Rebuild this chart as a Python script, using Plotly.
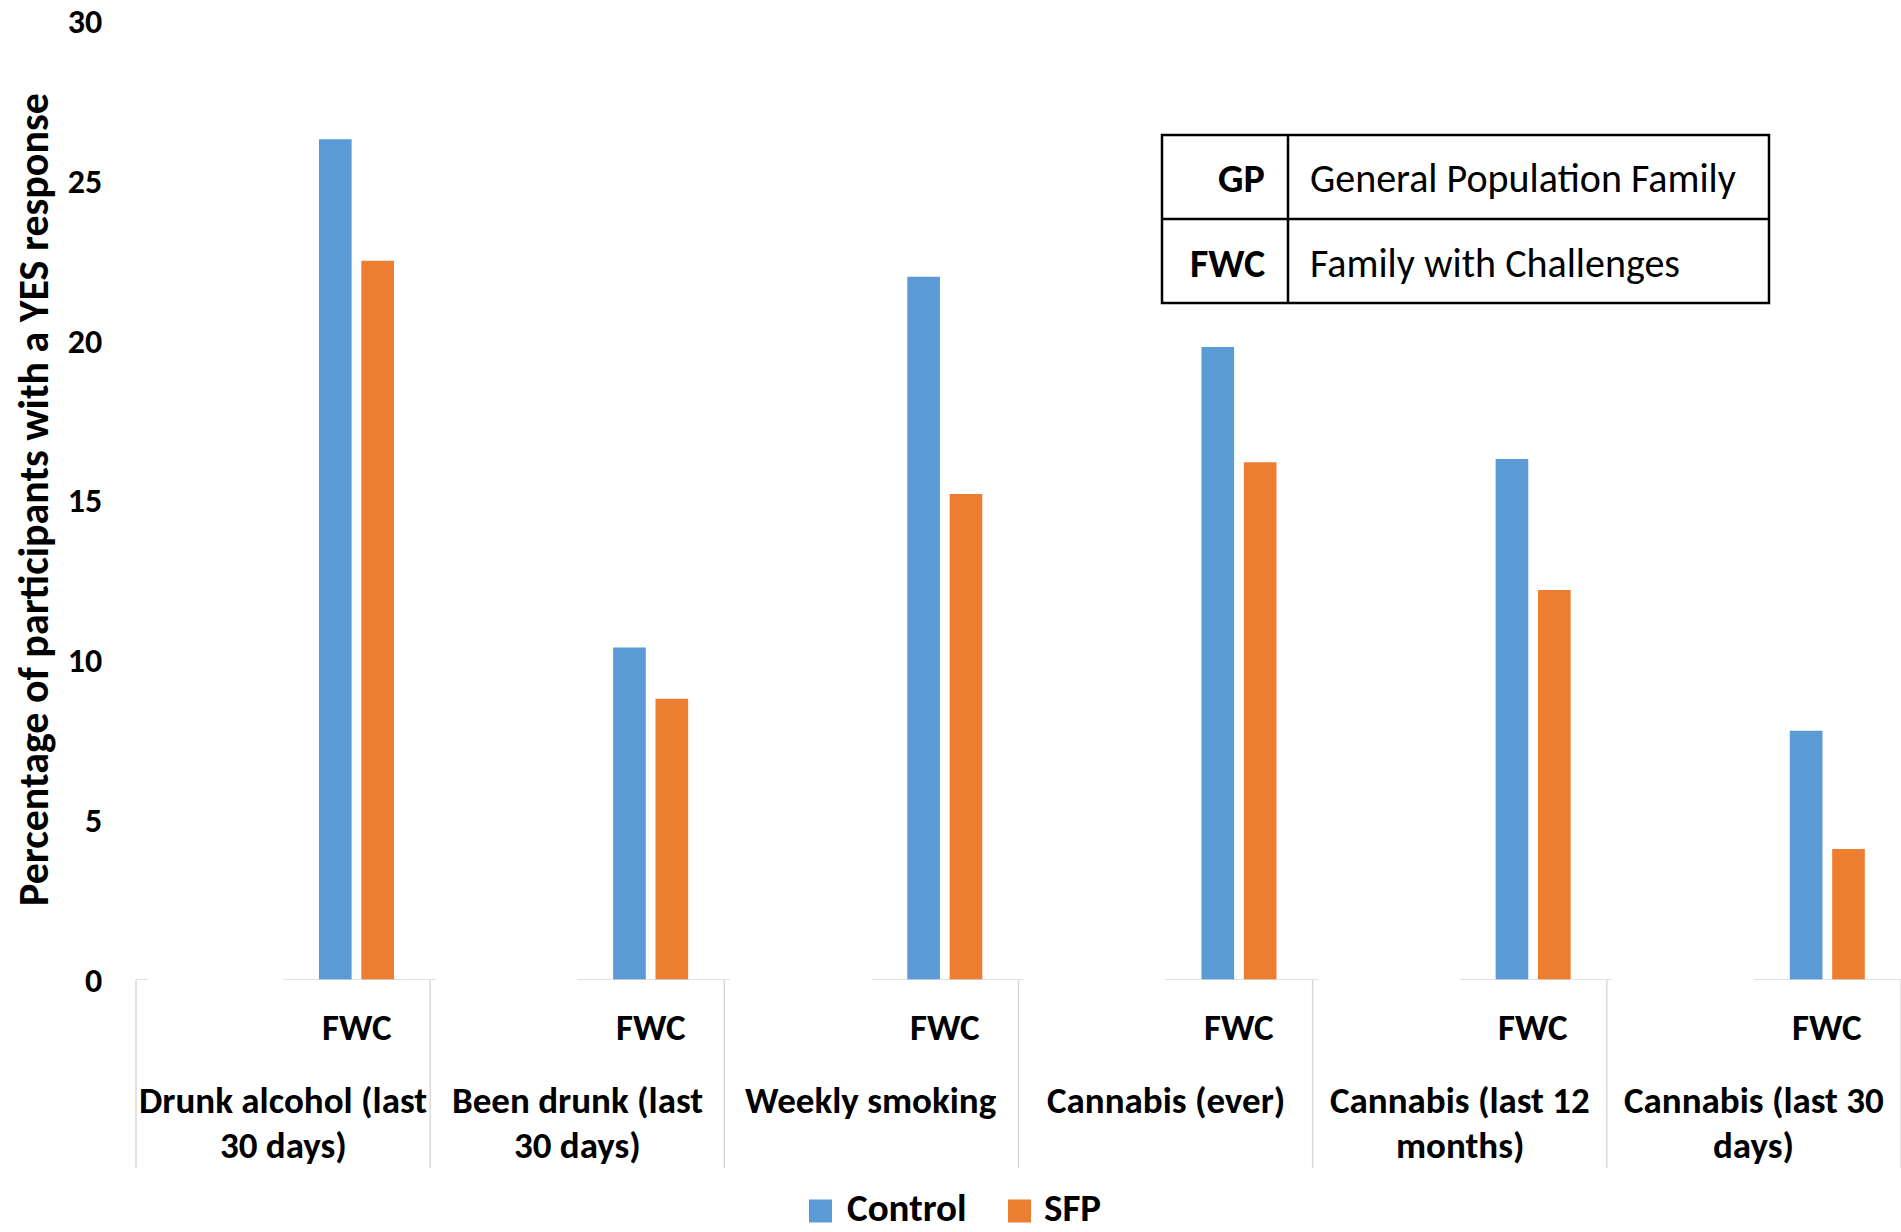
import plotly.graph_objects as go

# ---- data ----
groups = ["Drunk alcohol (last<br>30 days)", "Been drunk (last<br>30 days)", "Weekly smoking",
          "Cannabis (ever)", "Cannabis (last 12<br>months)", "Cannabis (last 30<br>days)"]
subgroups = ["GP", "FWC"]
control = [26.3, 10.4, 22.0, 19.8, 16.3, 7.8]
sfp = [22.5, 8.8, 15.2, 16.2, 12.2, 4.1]
series_names = ["Control", "SFP"]
series_colors = ["#5B9BD5", "#ED7D31"]
y_ticks = [0, 5, 10, 15, 20, 25, 30]
legend_table = [("GP", "General Population Family"), ("FWC", "Family with Challenges")]
y_title = "Percentage of participants with a YES response"

W, H = 1901, 1232
L, R, T, B = 136, 0, 21, 252
PW, PH = W - L - R, H - T - B
FONT = "Carlito, Calibri, Lato, sans-serif"

nsub = len(subgroups)
nslots = len(groups) * nsub
fwc_x = [g * nsub + 1 for g in range(len(groups))]


def px2paper(px, py):
    return (px - L) / PW, (H - B - py) / PH


fig = go.Figure()
bw = 0.222
offsets = [-0.256, 0.032]
for name, vals, col, off in zip(series_names, [control, sfp], series_colors, offsets):
    fig.add_trace(go.Bar(x=fwc_x, y=vals, name=name, marker=dict(color=col, line=dict(width=0)),
                         width=bw, offset=off, showlegend=False))

shapes = []
annotations = []
GRAY = "#D9D9D9"
# baseline segments
shapes.append(dict(type="line", xref="x", yref="y", x0=-0.5, x1=-0.42, y0=0, y1=0,
                   line=dict(color=GRAY, width=1.5)))
for g in range(len(groups)):
    shapes.append(dict(type="line", xref="x", yref="y", x0=g * nsub + 0.5, x1=g * nsub + 1.54,
                       y0=0, y1=0, line=dict(color=GRAY, width=1.5)))
# separators
_, ysep = px2paper(0, 1168)
for g in range(len(groups) + 1):
    xp = (g * nsub) / nslots
    shapes.append(dict(type="line", xref="paper", yref="paper", x0=xp, x1=xp, y0=0, y1=ysep,
                       line=dict(color=GRAY, width=1.5)))

# sub-category labels
CAT_SIZE = 37
_, yfwc = px2paper(0, 1027)
for g in range(len(groups)):
    annotations.append(dict(x=g * nsub + 1, y=yfwc, xref="x", yref="paper", text="<b>FWC</b>",
                            showarrow=False, font=dict(size=CAT_SIZE, color="black", family=FONT),
                            xanchor="center", yanchor="middle"))
    lines = groups[g].split("<br>")
    for k, ln in enumerate(lines):
        _, yl = px2paper(0, 1100 + 45 * k)
        annotations.append(dict(x=g * nsub + 0.5, y=yl, xref="x", yref="paper", text="<b>" + ln + "</b>",
                                showarrow=False, font=dict(size=CAT_SIZE, color="black", family=FONT),
                                xanchor="center", yanchor="middle"))

# table
tx0, ty0, tx1, ty1 = 1162, 135, 1769, 303
tdiv_x, tdiv_y = 1288, 219
p0 = px2paper(tx0, ty0)
p1 = px2paper(tx1, ty1)
shapes.append(dict(type="rect", xref="paper", yref="paper", x0=p0[0], y0=p0[1], x1=p1[0], y1=p1[1],
                   line=dict(color="black", width=2.5), fillcolor="white", layer="above"))
dv = px2paper(tdiv_x, tdiv_y)
shapes.append(dict(type="line", xref="paper", yref="paper", x0=dv[0], x1=dv[0], y0=p0[1], y1=p1[1],
                   line=dict(color="black", width=2.5), layer="above"))
shapes.append(dict(type="line", xref="paper", yref="paper", x0=p0[0], x1=p1[0], y0=dv[1], y1=dv[1],
                   line=dict(color="black", width=2.5), layer="above"))
row_y = [178, 263]
TAB_SIZE = 40
for (abbr, desc), ry in zip(legend_table, row_y):
    ax, ay = px2paper(1267, ry)
    annotations.append(dict(x=ax, y=ay, xref="paper", yref="paper", text="<b>" + abbr + "</b>",
                            showarrow=False, xanchor="right", yanchor="middle",
                            font=dict(size=TAB_SIZE, color="black", family=FONT)))
    dx, dy = px2paper(1308, ry)
    annotations.append(dict(x=dx, y=dy, xref="paper", yref="paper", text=desc,
                            showarrow=False, xanchor="left", yanchor="middle",
                            font=dict(size=TAB_SIZE, color="black", family=FONT)))

# y axis title
tx, tyy = px2paper(34, 500)
annotations.append(dict(x=tx, y=tyy, xref="paper", yref="paper", text="<b>" + y_title + "</b>",
                        textangle=-90, showarrow=False, xanchor="center", yanchor="middle",
                        font=dict(size=42, color="black", family=FONT)))

# legend (drawn below the chart)
LEG_Y = 1207
LEG_SQ = 23
leg_sq_x = [809, 1008]
leg_txt_x = [845, 1042]
for name, col, sx, txx in zip(series_names, series_colors, leg_sq_x, leg_txt_x):
    a = px2paper(sx, LEG_Y - LEG_SQ / 2 + 4)
    b = px2paper(sx + LEG_SQ, LEG_Y + LEG_SQ / 2 + 4)
    shapes.append(dict(type="rect", xref="paper", yref="paper", x0=a[0], y0=a[1], x1=b[0], y1=b[1],
                       line=dict(width=0), fillcolor=col))
    t = px2paper(txx, LEG_Y)
    annotations.append(dict(x=t[0], y=t[1], xref="paper", yref="paper", text="<b>" + name + "</b>",
                            showarrow=False, xanchor="left", yanchor="middle",
                            font=dict(size=39, color="black", family=FONT)))

fig.update_layout(
    width=W, height=H, margin=dict(l=L, r=R, t=T, b=B),
    paper_bgcolor="white", plot_bgcolor="white",
    barmode="overlay",
    xaxis=dict(range=[-0.5, nslots - 0.5], showticklabels=False, showgrid=False, zeroline=False,
               showline=False, ticks=""),
    yaxis=dict(range=[0, 30], tickvals=y_ticks, ticktext=["<b>%d</b>" % v for v in y_ticks],
               showgrid=False, zeroline=False, showline=False, ticks="outside", ticklen=26,
               tickcolor="rgba(0,0,0,0)", tickfont=dict(size=34, color="black", family=FONT)),
    shapes=shapes, annotations=annotations,
    showlegend=False,
)
fig.write_html("out.html")
